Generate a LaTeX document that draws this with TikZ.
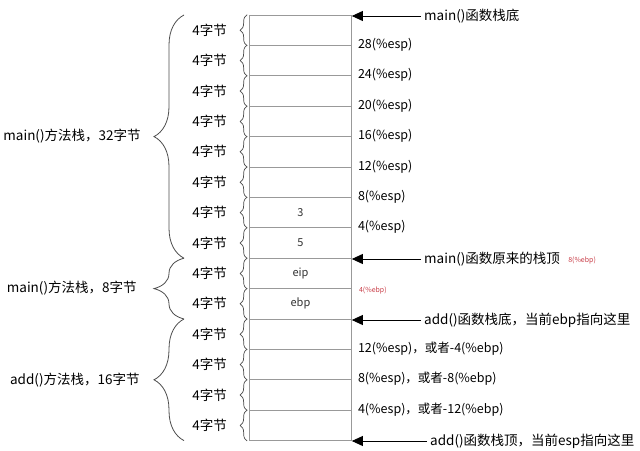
\documentclass[tikz,border=0pt]{standalone}
\usepackage{fontspec}
\setmainfont{Noto Sans CJK SC}
\usetikzlibrary{decorations.pathreplacing,arrows.meta,calc}
\begin{document}
\begin{tikzpicture}[x=1pt,y=-1pt,
  cell/.style={draw=black!40, line width=0.7pt, minimum width=102pt, minimum height=30.4pt, inner sep=0pt, font=\fontsize{11}{13}\selectfont, text=black!80},
  sbrace/.style={draw=black!70, line width=0.7pt, decorate, decoration={brace, amplitude=7pt}},
  bbrace/.style={draw=black!70, line width=0.8pt, decorate, decoration={brace, amplitude=30pt}},
  bytelab/.style={anchor=east, inner sep=0pt, font=\fontsize{13.5}{15}\selectfont},
  grplab/.style={anchor=east, inner sep=0pt, font=\fontsize{13.5}{15}\selectfont},
  esplab/.style={anchor=west, inner sep=0pt, font=\fontsize{12.5}{15}\selectfont},
  arrlab/.style={anchor=west, inner sep=0pt, font=\fontsize{13.5}{15}\selectfont},
  redlab/.style={anchor=west, inner sep=0pt, text={rgb,255:red,200;green,60;blue,70}, font=\fontsize{7}{8}\selectfont},
  arr/.style={line width=0.9pt, -{Triangle[length=11pt,width=10pt]}, shorten <=3pt}
]
\useasboundingbox (0,0) rectangle (640,450);
% cells
\foreach \i/\t in {1/,2/,3/,4/,5/,6/,7/3,8/5,9/eip,10/ebp,11/,12/,13/,14/}{
  \node[cell] (c\i) at (300.5, {15+30.4*(\i-0.5)}) {\t};
}
% small braces and labels
\foreach \i in {1,...,14}{
  \draw[sbrace] ([xshift=-2pt]c\i.south west) -- ([xshift=-2pt]c\i.north west);
  \node[bytelab] (b\i) at ([xshift=-22pt]c\i.west) {4字节};
}
% big braces
\draw[bbrace] (184,258.2) -- node[grplab, midway, xshift=-43pt] (g1) {main()方法栈，32字节} (184,15);
\draw[bbrace] (184,319) -- node[grplab, midway, xshift=-47pt] (g2) {main()方法栈，8字节} (184,258.2);
\draw[bbrace] (184,440.6) -- node[grplab, midway, xshift=-44pt] (g3) {add()方法栈，16字节} (184,319);
% esp labels
\foreach \i/\t in {1/28,2/24,3/20,4/16,5/12,6/8,7/4}{
  \node[esplab] (e\i) at ([xshift=6pt,yshift=1pt]c\i.south east) {\t(\%esp)};
}
\node[esplab] (e11) at ([xshift=6pt,yshift=1pt]c11.south east) {12(\%esp)，或者-4(\%ebp)};
\node[esplab] (e12) at ([xshift=6pt,yshift=1pt]c12.south east) {8(\%esp)，或者-8(\%ebp)};
\node[esplab] (e13) at ([xshift=6pt,yshift=1pt]c13.south east) {4(\%esp)，或者-12(\%ebp)};
% arrow labels
\node[arrlab] (a0) at (424,16) {main()函数栈底};
\node[arrlab] (a8) at (424,259) {main()函数原来的栈顶};
\node[arrlab] (a10) at (424,320) {add()函数栈底，当前ebp指向这里};
\node[arrlab] (a14) at (430,441) {add()函数栈顶，当前esp指向这里};
\draw[arr] (a0.west) -- (a0.west -| c1.east);
\draw[arr] (a8.west) -- (a8.west -| c8.east);
\draw[arr] (a10.west) -- (a10.west -| c10.east);
\draw[arr] (a14.west) -- (a14.west -| c14.east);
% red labels
\node[redlab] (r8) at ([xshift=8pt,yshift=-1pt]a8.east) {8(\%ebp)};
\node[redlab] (r9) at ([xshift=7pt,yshift=-1pt]c9.south east) {4(\%ebp)};
\end{tikzpicture}
\end{document}
